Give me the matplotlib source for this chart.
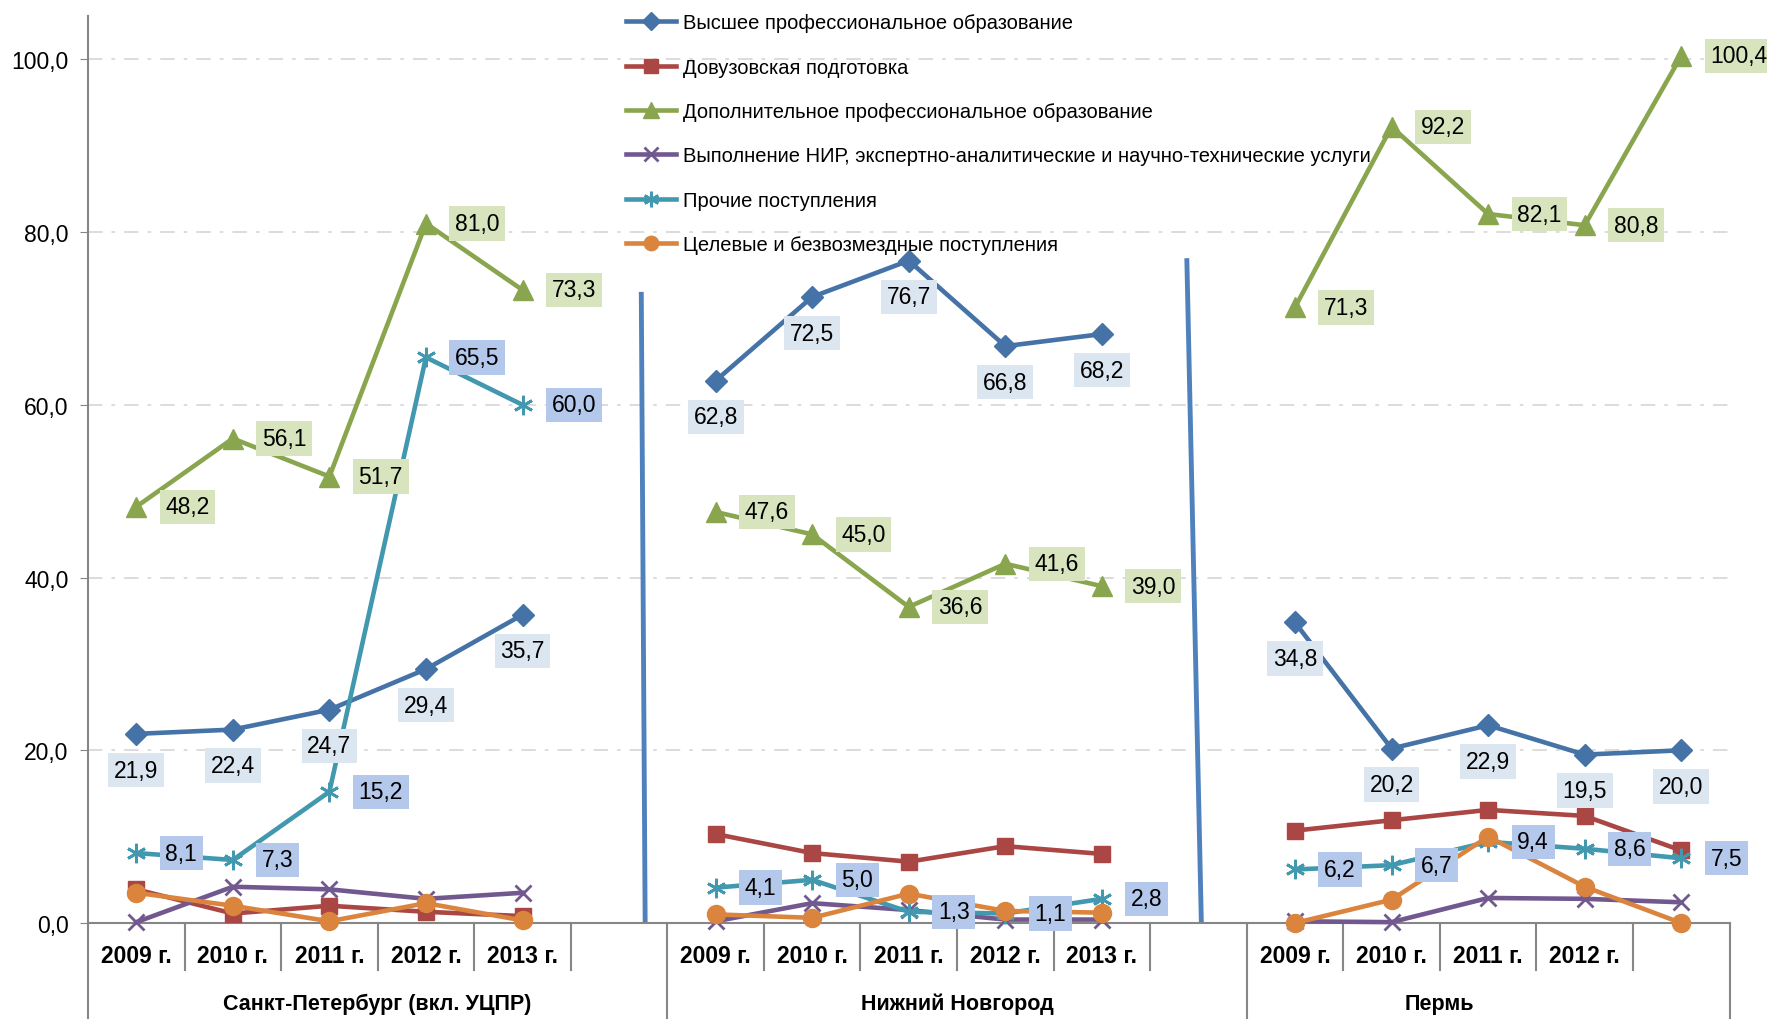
import numpy as np
import matplotlib.pyplot as plt
from matplotlib.lines import Line2D
import matplotlib.transforms as mtransforms

plt.rcParams['font.family'] = ['Liberation Sans', 'DejaVu Sans']

# categories
cities = ['Санкт-Петербург (вкл. УЦПР)', 'Нижний Новгород', 'Пермь']
year_labels = [['2009 г.', '2010 г.', '2011 г.', '2012 г.', '2013 г.'],
               ['2009 г.', '2010 г.', '2011 г.', '2012 г.', '2013 г.'],
               ['2009 г.', '2010 г.', '2011 г.', '2012 г.', '']]
group_start = [0, 6, 12]   # category index where each city starts
group_size = [6, 6, 5]

# series values, one list per city
vysshee = [[21.9, 22.4, 24.7, 29.4, 35.7], [62.8, 72.5, 76.7, 66.8, 68.2], [34.8, 20.2, 22.9, 19.5, 20.0]]
dovuz = [[3.9, 1.1, 2.0, 1.3, 0.8], [10.3, 8.1, 7.1, 8.9, 8.0], [10.7, 11.9, 13.1, 12.4, 8.4]]
dpo = [[48.2, 56.1, 51.7, 81.0, 73.3], [47.6, 45.0, 36.6, 41.6, 39.0], [71.3, 92.2, 82.1, 80.8, 100.4]]
nir = [[0.1, 4.2, 3.9, 2.8, 3.5], [0.2, 2.3, 1.5, 0.4, 0.4], [0.2, 0.1, 2.9, 2.8, 2.4]]
prochie = [[8.1, 7.3, 15.2, 65.5, 60.0], [4.1, 5.0, 1.3, 1.1, 2.8], [6.2, 6.7, 9.4, 8.6, 7.5]]
celevye = [[3.5, 2.0, 0.2, 2.3, 0.3], [1.0, 0.6, 3.4, 1.4, 1.2], [0.0, 2.7, 10.0, 4.2, 0.0]]

series = [
    ('Высшее профессиональное образование', vysshee, '#4572A7', 'D', 11, 'below', '#dce6f1'),
    ('Довузовская подготовка', dovuz, '#AA4643', 's', 12, None, None),
    ('Дополнительное профессиональное образование', dpo, '#89A54E', '^', 14, 'right', '#d7e4bd'),
    ('Выполнение НИР, экспертно-аналитические и научно-технические услуги', nir, '#71588F', 'x', 12, None, None),
    ('Прочие поступления', prochie, '#4198AF', (6, 2, 0), 14, 'right', '#b4c8ec'),
    ('Целевые и безвозмездные поступления', celevye, '#DB843D', 'o', 13, None, None),
]


def fmt(v):
    return f'{v:.1f}'.replace('.', ',')


fig = plt.figure(figsize=(17.67, 10.20), dpi=100)
ax = fig.add_axes([0.0498, 0.0941, 0.929, 0.889])

handles = []
for name, values, color, marker, ms, lab_pos, lab_bg in series:
    mew = 2 if marker in ('x', (6, 2, 0)) else 1
    for g, vals in enumerate(values):
        xs = [group_start[g] + i for i in range(len(vals))]
        ax.plot(xs, vals, color=color, lw=3.3, marker=marker, ms=ms, mew=mew,
                mec=color, mfc=color, zorder=3, clip_on=False)
        if lab_pos is None:
            continue
        for x, v in zip(xs, vals):
            if lab_pos == 'below':
                ax.annotate(fmt(v), (x, v), xytext=(0, -26), textcoords='offset points',
                            ha='center', va='center', fontsize=16.5, zorder=5,
                            bbox=dict(boxstyle='square,pad=0.25', fc=lab_bg, ec='none'))
            else:
                ax.annotate(fmt(v), (x, v), xytext=(21, 0), textcoords='offset points',
                            ha='left', va='center', fontsize=16.5, zorder=5,
                            bbox=dict(boxstyle='square,pad=0.25', fc=lab_bg, ec='none'))
    handles.append(Line2D([], [], color=color, lw=3.3, marker=marker, ms=ms * 0.8,
                          mew=mew, mec=color, mfc=color, label=name))

# blue divider shapes between cities
ax.plot([5.23, 5.27], [72.8, 0], color='#4F81BD', lw=3.5, zorder=2)
ax.plot([10.88, 11.03], [76.7, 0], color='#4F81BD', lw=3.5, zorder=2)

ax.set_xlim(-0.5, 16.5)
ax.set_ylim(0, 105)
ax.set_yticks(range(0, 101, 20))
ax.set_yticklabels([fmt(v) for v in range(0, 101, 20)], fontsize=16.5)
ax.tick_params(axis='y', length=6, color='#868686', pad=8)
ax.set_xticks([])
ax.yaxis.grid(True, color='#d9d9d9', linestyle=(0, (8, 5, 2, 5)), lw=1.3)
ax.set_axisbelow(True)
for s in ('top', 'right'):
    ax.spines[s].set_visible(False)
for s in ('left', 'bottom'):
    ax.spines[s].set_color('#868686')
    ax.spines[s].set_linewidth(1.5)

# two-level category axis
trans = mtransforms.blended_transform_factory(ax.transData, ax.transAxes)
for g in range(3):
    start, size = group_start[g], group_size[g]
    for i, lab in enumerate(year_labels[g]):
        ax.text(start + i, -0.036, lab, transform=trans, ha='center', va='center',
                fontsize=16.5, fontweight='bold')
    for b in range(start + 1, start + size):
        ax.plot([b - 0.5, b - 0.5], [0, -0.052], transform=trans, color='#868686',
                lw=1.5, clip_on=False)
    ax.plot([start - 0.5, start - 0.5], [0, -0.12], transform=trans, color='#868686',
            lw=1.5, clip_on=False)
    center = start - 0.5 + 3 if g < 2 else 13.5
    ax.text(center, -0.089, cities[g], transform=trans, ha='center', va='center',
            fontsize=15.5, fontweight='bold')
ax.plot([16.5, 16.5], [0, -0.12], transform=trans, color='#868686', lw=1.5, clip_on=False)

fig.legend(handles=handles, loc='upper left', bbox_to_anchor=(0.354, 0.986), frameon=False,
           fontsize=14.5, handlelength=2.5, handletextpad=0.35, labelspacing=1.26,
           borderpad=0, borderaxespad=0)

fig.savefig('out.png', dpi=100)
